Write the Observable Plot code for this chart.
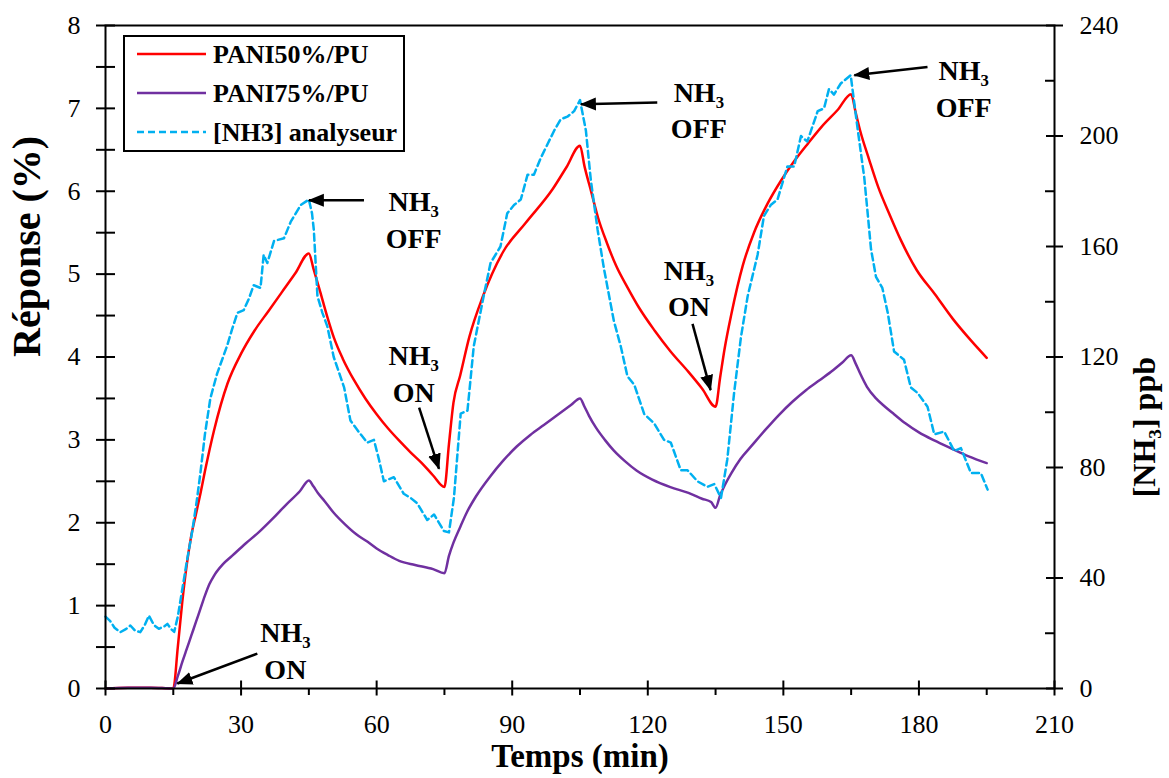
<!DOCTYPE html>
<html>
<head>
<meta charset="utf-8">
<script src="https://cdn.jsdelivr.net/npm/d3@7"></script>
<script src="https://cdn.jsdelivr.net/npm/@observablehq/plot@0.6"></script>
<style>
  body { margin: 0; background: #fff; }
  #wrap { position: relative; width: 1169px; height: 778px; font-family: "Liberation Serif", serif; }
  #wrap svg.chart { position: absolute; left: 0; top: 0; }
  #wrap svg#legend { position: absolute; left: 123px; top: 35px; }
</style>
</head>
<body>
<div id="wrap"></div>
<script>
// ---------- axis ticks ----------
const xTicksMajor = [0, 30, 60, 90, 120, 150, 180, 210];
const xTicksMinor = [15, 45, 75, 105, 135, 165, 195];
const yLeftTicks = [0, 0.5, 1, 1.5, 2, 2.5, 3, 3.5, 4, 4.5, 5, 5.5, 6, 6.5, 7, 7.5, 8];
const yRightTicks = [0, 40, 80, 120, 160, 200, 240];
const yRightMinor = [20, 60, 100, 140, 180, 220];
const leftMax = 8, rightMax = 240;

// ---------- series ----------
const seriesNames = ["PANI50%/PU", "PANI75%/PU", "[NH3] analyseur"];

const t50 = [0,5,10,15,16,17,18,19,20,21,22,24,27,30,33,36,39,42,45,46,47.5,49,50.5,52.5,55,57.5,60,62.5,65,67.5,70,72.5,75,76,77,78.5,80.5,83.5,88,93,99,102,105,106,107.5,109,111,113,115.5,118,121.5,125,129,132,135,136,137,138.5,141,143.5,146.5,149.5,152.5,155.5,158.5,162,165,166,167,169,171,173.5,176,179.5,183.5,187.5,191.5,195];
const v50 = [0,0.01,0.01,0,0.5,1.05,1.5,1.85,2.1,2.35,2.62,3.11,3.68,4.04,4.32,4.55,4.78,5.01,5.25,5.07,4.79,4.5,4.24,3.98,3.72,3.5,3.31,3.14,2.99,2.85,2.72,2.57,2.43,2.95,3.45,3.78,4.24,4.73,5.27,5.62,6.03,6.29,6.55,6.3,5.99,5.68,5.37,5.1,4.84,4.6,4.32,4.07,3.82,3.62,3.4,3.75,4.1,4.52,5.1,5.5,5.85,6.13,6.37,6.58,6.78,6.98,7.17,6.95,6.73,6.38,6.05,5.72,5.41,5.05,4.76,4.46,4.2,3.99];

const t75 = [0,5,10,15,16,17,18,19,20,21,22,23,24,26,28,31,34,37,40,43,45,46,47,48.5,50.5,53,55.5,58,60,62.5,65,68.5,72.5,75,76,77,78.5,80,82,85,88,91,94,97,100,103,105,106,107,108.5,110.5,112.5,115,117.5,121,125,129,132,134,135,136,137,138.5,140.5,143,146,149,152,155,158,161,163,165,166,167,168.5,170.5,172.5,174.5,177,180,183.5,187,191,195];
const v75 = [0,0.01,0.01,0,0.15,0.32,0.48,0.64,0.8,0.96,1.12,1.26,1.36,1.5,1.6,1.75,1.89,2.05,2.22,2.38,2.51,2.44,2.36,2.26,2.12,1.98,1.86,1.77,1.69,1.61,1.54,1.49,1.44,1.39,1.6,1.76,1.95,2.13,2.32,2.55,2.75,2.92,3.06,3.18,3.3,3.42,3.5,3.4,3.29,3.15,3.0,2.87,2.74,2.63,2.52,2.43,2.36,2.29,2.25,2.18,2.33,2.45,2.6,2.77,2.93,3.12,3.3,3.46,3.6,3.72,3.84,3.93,4.02,3.92,3.8,3.64,3.5,3.4,3.31,3.2,3.09,2.99,2.9,2.8,2.72];

const tNH3 = [0,1,2,3.3,4.5,5.5,6.5,7.7,8.7,9.6,10.7,11.8,13,13.7,14.5,15.2,16,17,18,19.2,20.2,21,22,23.2,24.7,26.9,28,29.2,30.6,31.7,32.8,34.3,35,35.8,37.3,39.5,41,43.2,45,45.7,46.1,46.9,48,49.1,50.5,52.8,54.2,56,57.9,59.4,60.5,61.6,63.8,66,67.5,69,71.2,72.7,74.9,76,77.1,78.6,80.1,81.5,83.8,85.2,87.4,88.9,90.4,91.9,93.4,94.8,96.3,99.3,100.7,102.2,103.7,105,106.3,107.4,108.9,110.3,112.5,114,115.5,117,119.2,121.4,123.6,125.1,127.3,128.8,131,133.2,134.7,136.2,137.6,139.1,140.6,142.1,144.3,145.7,147.2,148.7,150.9,152.4,153.9,155.3,157.6,159,160.1,161.2,162.7,164.9,166.4,167.9,168.6,169.4,170.5,171.9,173.1,174.5,176.7,178.2,179.7,181.9,183.4,185.6,187.8,189.3,191.5,193.7,195.2];
const ppbNH3 = [26,24.5,22,20.4,21.5,22.8,21,20.4,23,26.4,23,21.6,22.5,23.4,21.5,20.5,26,36,46,57,68,78,92,105,114,124,130,136,137,141,146,145,157,154,162,163,169,175,177,172,166,142,136,131,120,109,97,93,89,90,83,75,76.5,70.5,69,67,61,63,57,56.5,69,99.5,100.6,124,143,154,160,172,175,177,186,186,192,202,206,207,209,213,202,184,166,152,133,124,113,110,99.4,96,90,89,79,79,75,73,74,69,83,107,127,142,157,171,175,177,189,189,200,198,209,210,217,215,219,222,203,185,173,159,149,145,136,122,119,109,107,102,92,93,86,87,78,78,72];

// ---------- annotations ----------
const annotLabel = ["NH₃\nON", "NH₃\nOFF", "NH₃\nON", "NH₃\nOFF", "NH₃\nON", "NH₃\nOFF"];
const annotT = [39.8, 68.2, 68.2, 131.3, 129.1, 189.9];
const annotV = [0.48, 5.68, 3.82, 7.0, 4.85, 7.26];
const arrowFromT = [33.6, 57.2, 69.4, 122.1, 129.9, 181.9];
const arrowFromV = [0.42, 5.89, 3.39, 7.07, 4.40, 7.50];
const arrowToT = [15.9, 45.0, 73.8, 105.2, 133.9, 165.7];
const arrowToV = [0.06, 5.89, 2.65, 7.05, 3.60, 7.40];

const axisTitleX = "Temps (min)";
const axisTitleLeft = "Réponse (%)";
const axisTitleRight = "[NH₃] ppb";

// ---------- build ----------
const k = rightMax / leftMax;
const d50 = t50.map((t, i) => ({t, v: v50[i]}));
const d75 = t75.map((t, i) => ({t, v: v75[i]}));
const dNH3 = tNH3.map((t, i) => ({t, v: ppbNH3[i] / k}));
const annots = annotLabel.map((label, i) => ({label, t: annotT[i], v: annotV[i]}));
const arrows = arrowFromT.map((t1, i) => ({t1, v1: arrowFromV[i], t2: arrowToT[i], v2: arrowToV[i]}));

const COLORS = ["#ff0000", "#7030a0", "#00b0f0"];
const FONT = "Liberation Serif";
const svgNS = "http://www.w3.org/2000/svg";

function filledArrow(color, context) {
  const doc = (context && context.document) || document;
  const m = doc.createElementNS(svgNS, "marker");
  m.setAttribute("viewBox", "0 -7 16 14");
  m.setAttribute("markerUnits", "userSpaceOnUse");
  m.setAttribute("markerWidth", "16");
  m.setAttribute("markerHeight", "14");
  m.setAttribute("refX", "15");
  m.setAttribute("refY", "0");
  m.setAttribute("orient", "auto");
  const p = doc.createElementNS(svgNS, "path");
  p.setAttribute("d", "M0,-6.5L16,0L0,6.5Z");
  p.setAttribute("fill", color === "currentColor" ? "black" : color);
  p.setAttribute("stroke", "none");
  m.appendChild(p);
  return m;
}

function build(marker) {
  return Plot.plot({
    width: 1169,
    height: 778,
    marginLeft: 105,
    marginRight: 115,
    marginTop: 25,
    marginBottom: 90,
    style: {fontFamily: FONT, background: "white", color: "black", overflow: "visible"},
    x: {domain: [0, 210], label: null},
    y: {domain: [0, leftMax], label: null},
    marks: [
      Plot.line(d50, {x: "t", y: "v", stroke: COLORS[0], strokeWidth: 2.5, curve: "monotone-x"}),
      Plot.line(d75, {x: "t", y: "v", stroke: COLORS[1], strokeWidth: 2.5, curve: "monotone-x"}),
      Plot.line(dNH3, {x: "t", y: "v", stroke: COLORS[2], strokeWidth: 2.5, strokeDasharray: "7,4"}),
      Plot.axisX({ticks: xTicksMajor, tickSize: 15, dy: -7.5, tickPadding: 19, fontSize: 26, strokeWidth: 2, label: null, tickFormat: d => String(d)}),
      Plot.axisX({ticks: xTicksMinor, tickSize: 7, strokeWidth: 2, label: null, tickFormat: () => ""}),
      Plot.axisY({ticks: yLeftTicks, tickSize: 19, dx: 10, tickPadding: 16, fontSize: 26, strokeWidth: 2, label: null,
        tickFormat: d => Number.isInteger(d) ? String(d) : ""}),
      Plot.axisY({anchor: "right", ticks: yRightTicks.map(v => v / k), tickSize: 17, dx: -9, tickPadding: 17, fontSize: 26, strokeWidth: 2, label: null,
        tickFormat: d => String(Math.round(d * k))}),
      Plot.axisY({anchor: "right", ticks: yRightMinor.map(v => v / k), tickSize: 10, dx: -10, strokeWidth: 2, label: null, tickFormat: () => ""}),
      Plot.frame({stroke: "black", strokeWidth: 2}),
      Plot.text([axisTitleX], {text: d => d, frameAnchor: "bottom", dy: 78, fontSize: 33, fontWeight: "bold"}),
      Plot.text([axisTitleLeft], {text: d => d, frameAnchor: "left", rotate: -90, dx: -78, fontSize: 40, fontWeight: "bold"}),
      Plot.text([axisTitleRight], {text: d => d, frameAnchor: "right", rotate: -90, dx: 90, fontSize: 32, fontWeight: "bold"}),
      Plot.link(arrows, {x1: "t1", y1: "v1", x2: "t2", y2: "v2", stroke: "black", strokeWidth: 2.5, markerEnd: marker}),
      Plot.text(annots, {x: "t", y: "v", text: "label", fontSize: 28, fontWeight: "bold", lineHeight: 1.3, fill: "black"})
    ]
  });
}

let chart;
try { chart = build(filledArrow); } catch (e) { chart = build("arrow"); }
chart.classList.add("chart");
document.getElementById("wrap").appendChild(chart);

// ---------- legend ----------
const lg = d3.select("#wrap").append("svg")
  .attr("id", "legend").attr("width", 282).attr("height", 117)
  .style("position", "absolute").style("left", "123px").style("top", "35px");
lg.append("rect").attr("x", 1).attr("y", 1).attr("width", 280).attr("height", 115)
  .attr("fill", "white").attr("stroke", "black").attr("stroke-width", 2);
seriesNames.forEach((name, i) => {
  const cy = 19 + i * 39;
  lg.append("line").attr("x1", 14).attr("x2", 83).attr("y1", cy).attr("y2", cy)
    .attr("stroke", COLORS[i]).attr("stroke-width", 2.5)
    .attr("stroke-dasharray", i === 2 ? "7,4" : null);
  lg.append("text").attr("x", 90).attr("y", cy + 9)
    .attr("font-family", FONT).attr("font-size", 26).attr("font-weight", "bold")
    .attr("fill", "black").text(name);
});
</script>
</body>
</html>
